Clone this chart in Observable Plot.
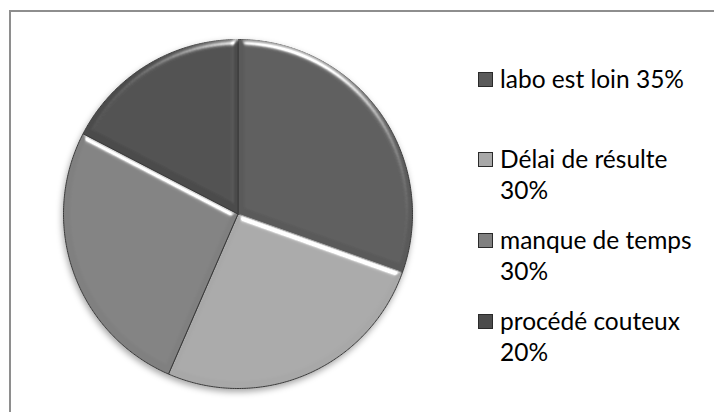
<!DOCTYPE html>
<html><head><meta charset="utf-8">
<script src="https://cdn.jsdelivr.net/npm/d3@7"></script>
<script src="https://cdn.jsdelivr.net/npm/@observablehq/plot@0.6"></script>
<style>
body{margin:0;background:#fff;}
#wrap{position:relative;width:714px;height:412px;overflow:hidden;background:#fff;font-family:Lato,"Open Sans",sans-serif;}
#frame{position:absolute;left:9px;top:10px;width:800px;height:600px;border-top:2px solid #8e8e8e;border-left:2px solid #8e8e8e;pointer-events:none;}
#chart{position:absolute;left:0;top:0;}
.item{position:absolute;left:478px;width:220px;color:#000;font-size:24.5px;line-height:31px;}
.sw{position:absolute;left:0;top:9px;width:15px;height:15px;box-sizing:border-box;border:1px solid #2a2a2a;}
.lbl{position:absolute;left:22px;width:196px;}
</style>
</head><body>
<div id="wrap"><div id="chart"></div><div id="legend"></div><div id="frame"></div></div>
<script>
const categories = ["labo est loin", "Délai de résulte", "manque de temps", "procédé couteux"];
const values = [35, 30, 30, 20];
const pctLabels = ["35%", "30%", "30%", "20%"];
const colors = ["#5a5a5a", "#a8a8a8", "#808080", "#4c4c4c"];

const arcs = d3.pie().sort(null).value(d => d.value)(categories.map((c, i) => ({key: c, value: values[i]})));
const pts = [];
for (const a of arcs) {
  pts.push({key: a.data.key, x: 0, y: 0});
  const n = Math.max(2, Math.ceil((a.endAngle - a.startAngle) / 0.01));
  for (let k = 0; k <= n; k++) {
    const t = a.startAngle + (a.endAngle - a.startAngle) * k / n;
    pts.push({key: a.data.key, x: Math.sin(t), y: Math.cos(t)});
  }
  pts.push({key: a.data.key, x: 0, y: 0});
}

const plot = Plot.plot({
  width: 714, height: 412,
  x: {domain: [-1, 1], range: [63, 412], axis: null},
  y: {domain: [-1, 1], range: [388, 39], axis: null},
  color: {domain: categories, range: colors},
  style: {background: "transparent"},
  marks: [
    Plot.line(pts, {x: "x", y: "y", z: "key", fill: "key", stroke: "#3a3a3a", strokeWidth: 1, curve: "linear"})
  ]
});
document.getElementById("chart").appendChild(plot);

const svg = d3.select(plot);
const defs = svg.insert("defs", ":first-child");
const f = defs.append("filter").attr("id", "bevel").attr("x", "-5%").attr("y", "-5%").attr("width", "110%").attr("height", "110%");
f.append("feGaussianBlur").attr("in", "SourceAlpha").attr("stdDeviation", 3).attr("result", "blur");
const sp = f.append("feSpecularLighting").attr("in", "blur").attr("surfaceScale", 5).attr("specularConstant", 1.1)
  .attr("specularExponent", 25).attr("lighting-color", "#ffffff").attr("result", "spec");
sp.append("feDistantLight").attr("azimuth", 290).attr("elevation", 25);
f.append("feComposite").attr("in", "spec").attr("in2", "SourceAlpha").attr("operator", "in").attr("result", "specIn");
f.append("feComposite").attr("in", "SourceGraphic").attr("in2", "specIn").attr("operator", "arithmetic")
  .attr("k1", 0).attr("k2", 1).attr("k3", 1).attr("k4", 0);
const sh = defs.append("filter").attr("id", "shadow").attr("x", "-10%").attr("y", "-10%").attr("width", "120%").attr("height", "120%");
sh.append("feDropShadow").attr("dx", -1).attr("dy", 3).attr("stdDeviation", 3).attr("flood-color", "#000").attr("flood-opacity", 0.35);

svg.selectAll('g[aria-label="line"]').attr("filter", "url(#shadow)");
svg.selectAll('g[aria-label="line"] path').attr("filter", "url(#bevel)");

const color = plot.scale("color");
const leg = document.getElementById("legend");
categories.forEach((c, i) => {
  const item = document.createElement("div");
  item.className = "item";
  item.style.top = (78 - 15.5 + i * 80.7) + "px";
  const sw = document.createElement("div");
  sw.className = "sw";
  sw.style.background = color.apply(c);
  const lbl = document.createElement("div");
  lbl.className = "lbl";
  lbl.textContent = c + " " + pctLabels[i];
  item.appendChild(sw); item.appendChild(lbl);
  leg.appendChild(item);
});
</script>
</body></html>
